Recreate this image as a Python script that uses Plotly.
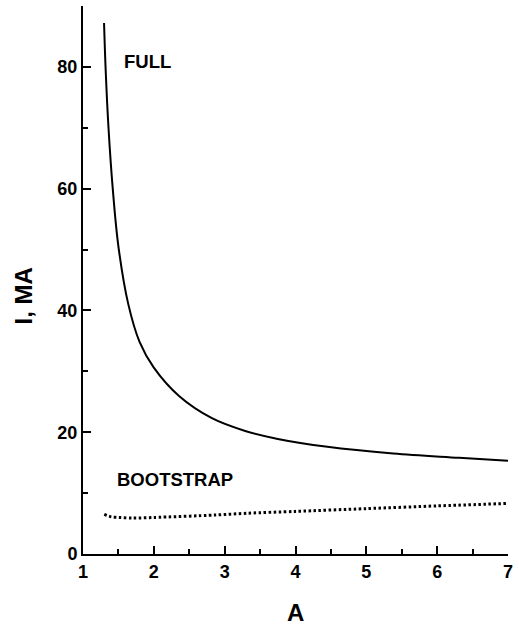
import plotly.graph_objects as go

# Full current vs aspect ratio
full_A = [1.297, 1.32, 1.36, 1.42, 1.50, 1.64, 1.80, 2.00, 2.36, 2.82, 3.29, 3.75, 4.45, 5.38, 6.31, 7.00]
full_I = [87.2, 79.5, 70.0, 60.0, 50.5, 41.0, 34.8, 30.6, 25.9, 22.3, 20.2, 18.9, 17.6, 16.5, 15.8, 15.3]

# Bootstrap current vs aspect ratio
boot_A = [1.30, 1.40, 1.51, 1.70, 2.00, 2.86, 3.33, 4.00, 5.00, 6.00, 7.00]
boot_I = [6.5, 6.1, 6.0, 5.9, 6.0, 6.4, 6.7, 7.0, 7.45, 7.9, 8.3]

x_ticks = [1, 2, 3, 4, 5, 6, 7]
y_ticks = [0, 20, 40, 60, 80]

FONT = "Liberation Sans, Arial, sans-serif"

fig = go.Figure()
fig.add_trace(go.Scatter(x=full_A, y=full_I, mode="lines",
                         line=dict(color="black", width=2, shape="spline", smoothing=1.0),
                         showlegend=False, hoverinfo="skip", cliponaxis=False))
fig.add_trace(go.Scatter(x=boot_A, y=boot_I, mode="lines",
                         line=dict(color="black", width=3, shape="spline", smoothing=0.8, dash="2.5px,2.5px"),
                         showlegend=False, hoverinfo="skip", cliponaxis=False))

fig.add_annotation(x=1.55, y=80.9, text="FULL", showarrow=False, xanchor="left", yanchor="middle",
                   font=dict(family=FONT, size=18.5, weight="bold", color="black"))
fig.add_annotation(x=1.445, y=12.3, text="BOOTSTRAP", showarrow=False, xanchor="left", yanchor="middle",
                   font=dict(family=FONT, size=18.5, weight="bold", color="black"))

# Axis titles
fig.add_annotation(x=4, xref="x", y=0, yref="paper", yshift=-58, text="A", showarrow=False,
                   xanchor="center", yanchor="middle",
                   font=dict(family=FONT, size=24, weight="bold", color="black"))
fig.add_annotation(x=0, xref="paper", xshift=-60, y=42.3, yref="y", text="I, MA", showarrow=False,
                   textangle=-90, xanchor="center", yanchor="middle",
                   font=dict(family=FONT, size=24, weight="bold", color="black"))

fig.update_xaxes(range=[1, 7.0001], tickvals=x_ticks, ticktext=[str(v) for v in x_ticks],
                 showline=True, linecolor="black", linewidth=2, mirror=False,
                 ticks="inside", ticklen=8, tickwidth=2, tickcolor="black",
                 minor=dict(ticks="inside", ticklen=5, tickwidth=2, tickcolor="black", dtick=0.5, tick0=1),
                 showgrid=False, zeroline=False, ticklabeloverflow="allow",
                 tickfont=dict(family=FONT, size=18, weight="bold", color="black"))
fig.update_yaxes(range=[0, 90], tickvals=y_ticks, ticktext=[str(v) for v in y_ticks],
                 showline=True, linecolor="black", linewidth=2, mirror=False,
                 ticks="inside", ticklen=8, tickwidth=2, tickcolor="black",
                 minor=dict(ticks="inside", ticklen=5, tickwidth=2, tickcolor="black", dtick=10, tick0=0),
                 showgrid=False, zeroline=False,
                 tickfont=dict(family=FONT, size=18, weight="bold", color="black"))

fig.update_layout(width=519, height=628, margin=dict(l=83, r=6, t=6, b=74),
                  plot_bgcolor="white", paper_bgcolor="white")

fig.write_html("out.html", config={"displayModeBar": False},
               post_script="document.body.style.margin='0';document.body.style.overflow='hidden';")
